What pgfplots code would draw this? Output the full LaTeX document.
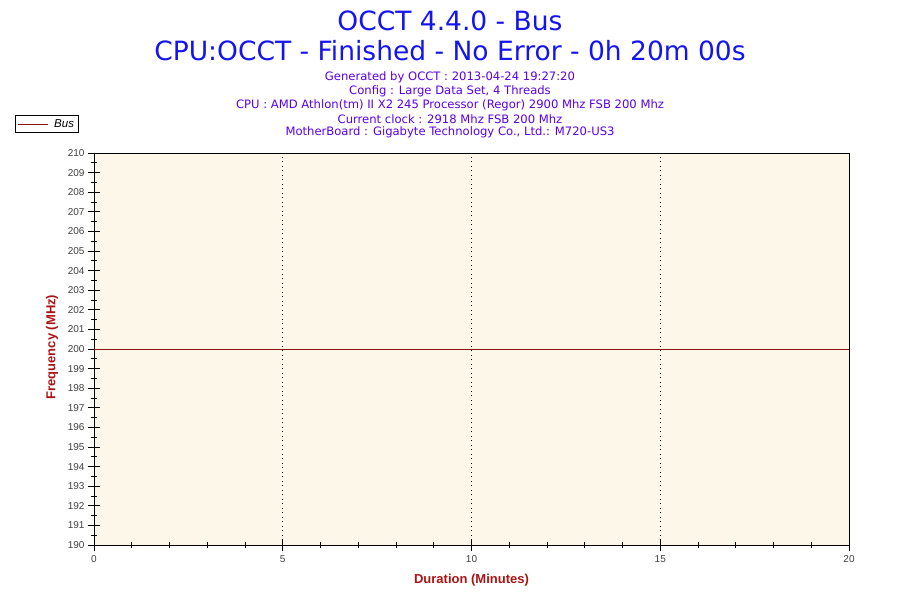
\documentclass[border=0pt]{standalone}
\usepackage{pgfplots}
\pgfplotsset{compat=1.18}
\usepackage{fontspec}
\setmainfont{Liberation Sans}
\newfontfamily\verd{DejaVu Sans}
\definecolor{titleblue}{RGB}{20,20,240}
\definecolor{infoblue}{RGB}{90,0,230}
\definecolor{labred}{RGB}{170,20,20}
\definecolor{linered}{RGB}{140,20,20}
\definecolor{bgc}{RGB}{253,247,234}
\definecolor{tickgray}{RGB}{64,64,64}
\begin{document}
\begin{tikzpicture}
\path[use as bounding box] (0,0) rectangle (900bp,600bp);
\node[text=titleblue, font=\verd\fontsize{26.5bp}{30bp}\selectfont] at (450bp,579bp) {OCCT 4.4.0 - Bus};
\node[text=titleblue, font=\verd\fontsize{26.5bp}{30bp}\selectfont] at (450bp,549bp) {CPU:OCCT - Finished - No Error - 0h 20m 00s};
\begin{scope}[every node/.style={text=infoblue, font=\verd\fontsize{11.6bp}{13bp}\selectfont}]
\node at (450bp,523bp) {Generated by OCCT : 2013-04-24 19:27:20};
\node at (450bp,509bp) {Config : Large Data Set, 4 Threads};
\node at (450bp,495bp) {CPU : AMD Athlon(tm) II X2 245 Processor (Regor) 2900 Mhz FSB 200 Mhz};
\node at (450bp,481bp) {Current clock : 2918 Mhz FSB 200 Mhz};
\node at (450bp,468bp) {MotherBoard : Gigabyte Technology Co., Ltd.: M720-US3};
\end{scope}
\begin{axis}[
  at={(94bp,55bp)}, anchor=south west,
  scale only axis, width=755bp, height=392bp,
  xmin=0, xmax=20, ymin=190, ymax=210,
  axis background/.style={fill=bgc},
  axis line style={black, line width=0.8pt},
  xtick={0,5,10,15,20}, ytick={190,191,...,210},
  minor x tick num=4, minor y tick num=1,
  xtick pos=left, ytick pos=left,
  tick align=center,
  major tick length=12bp, minor tick length=6bp,
  tick style={black, line width=0.8pt},
  xmajorgrids, major grid style={black, line width=0.7pt, dash pattern=on 1bp off 3.5bp},
  /pgf/number format/assume math mode=true,
  ticklabel style={font=\fontsize{10bp}{12bp}\selectfont, text=tickgray},
  xticklabel style={yshift=-1bp},
  xlabel={Duration (Minutes)}, ylabel={Frequency (MHz)},
  label style={font=\bfseries\fontsize{13bp}{15bp}\selectfont, text=labred},
  xlabel style={at={(axis description cs:0.5,-0.0893)}, anchor=center},
  ylabel style={at={(axis description cs:-0.0555,0.505)}, anchor=center, rotate=0},
  legend style={at={(axis description cs:-0.1046,1.097)}, anchor=north west,
    draw=black, line width=0.8pt, fill=white, font=\itshape\fontsize{11.5bp}{13bp}\selectfont,
    inner xsep=2bp, inner ysep=2bp},
  legend image code/.code={\draw[#1] (0bp,0bp) -- (30bp,0bp);},
]
\addplot[linered, line width=0.8pt] coordinates {(0,200) (20,200)};
\addlegendentry{\hspace{4bp}Bus\hspace{3bp}}
\end{axis}
\end{tikzpicture}
\end{document}
